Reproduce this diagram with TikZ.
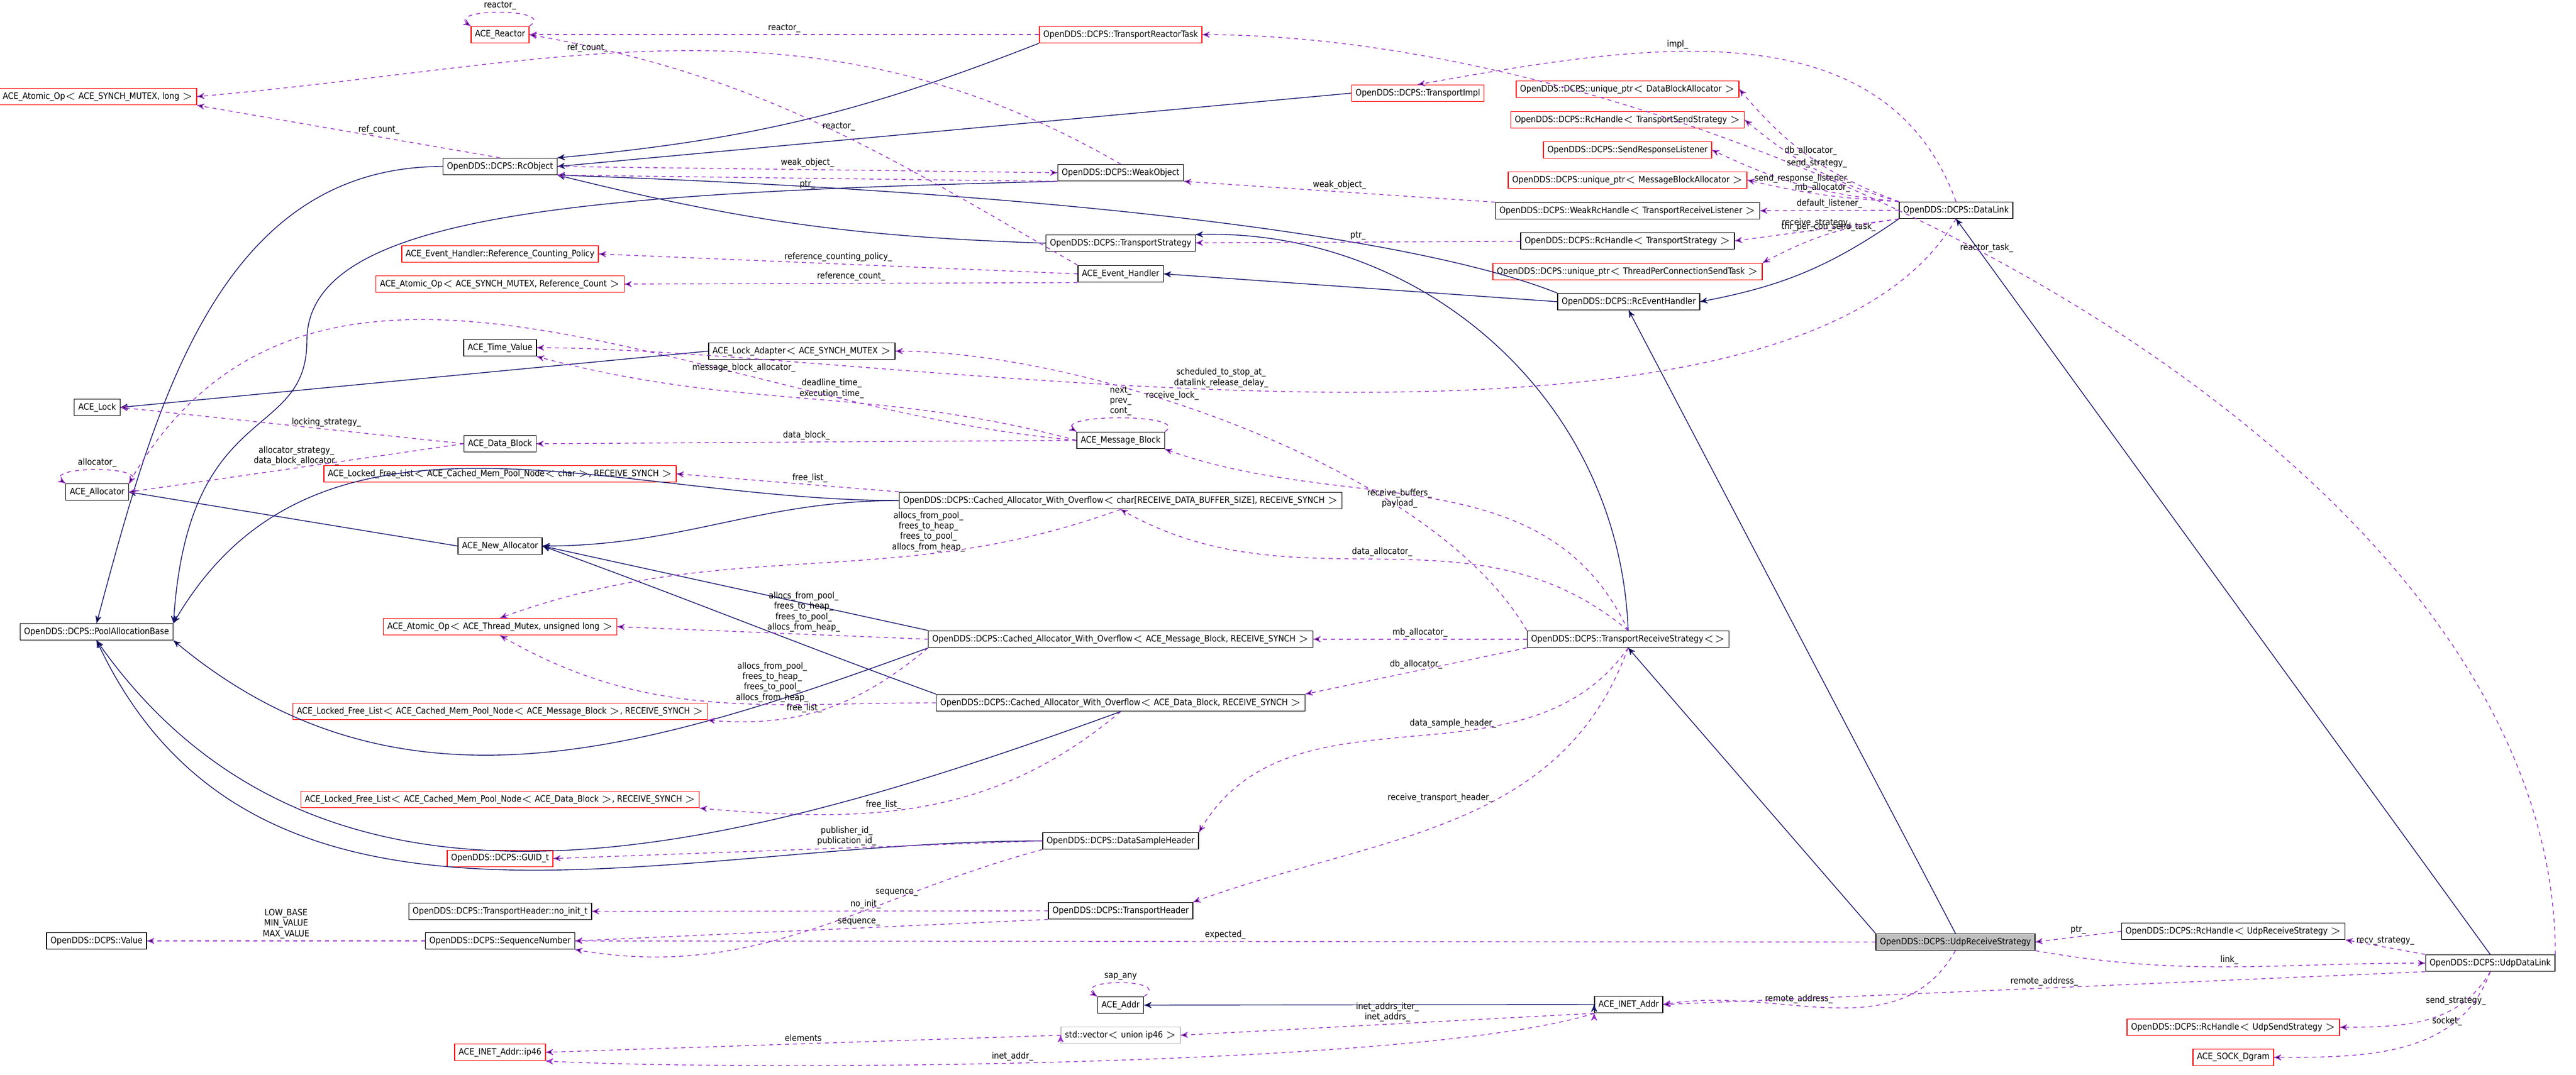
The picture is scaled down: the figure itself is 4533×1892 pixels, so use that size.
\documentclass[tikz,border=0pt]{standalone}
\usepackage{fontspec}
\newfontfamily\dgfont{DejaVu Sans Condensed}
\usetikzlibrary{arrows}
\definecolor{inhblue}{RGB}{25,25,112}
\definecolor{usepurple}{RGB}{154,50,205}
\definecolor{boxgray}{RGB}{191,191,191}

\begin{document}
\begin{tikzpicture}[x=0.01cm,y=-0.01cm,>=stealth',
  cls/.style={draw,thin,inner sep=2pt,minimum height=0.27cm,font=\dgfont\fontsize{4.4}{5.2}\selectfont},
  redcls/.style={cls,draw=red},
  inh/.style={->,draw=inhblue,thin},
  use/.style={->,draw=usepurple,thin,dash pattern=on 2pt off 2pt},
  selfloop/.style={to path={.. controls +(50,-32) and +(-50,-32) .. (\tikztotarget) \tikztonodes}},
  lbl/.style={font=\dgfont\fontsize{4.4}{5.2}\selectfont,align=center,inner sep=1pt}]

  \useasboundingbox (0,0) rectangle (4533,1892);

  % left column
  \node[redcls] (atomiclong) at (172,170) {ACE\_Atomic\_Op$<$ ACE\_SYNCH\_MUTEX, long $>$};
  \node[cls] (acelock) at (171,717) {ACE\_Lock};
  \node[cls] (allocator) at (171,866) {ACE\_Allocator};
  \node[cls] (pool) at (170,1112) {OpenDDS::DCPS::PoolAllocationBase};
  \node[cls] (value) at (170,1656) {OpenDDS::DCPS::Value};

  % second column
  \node[redcls] (reactor) at (880,61) {ACE\_Reactor};
  \node[cls] (rcobject) at (880,293) {OpenDDS::DCPS::RcObject};
  \node[redcls] (refpolicy) at (880,447) {ACE\_Event\_Handler::Reference\_Counting\_Policy};
  \node[redcls] (atomicref) at (880,500) {ACE\_Atomic\_Op$<$ ACE\_SYNCH\_MUTEX, Reference\_Count $>$};
  \node[cls] (timevalue) at (880,612) {ACE\_Time\_Value};
  \node[cls] (lockadapter) at (1411,618) {ACE\_Lock\_Adapter$<$ ACE\_SYNCH\_MUTEX $>$};
  \node[cls] (datablock) at (880,781) {ACE\_Data\_Block};
  \node[redcls] (lflchar) at (880,834) {ACE\_Locked\_Free\_List$<$ ACE\_Cached\_Mem\_Pool\_Node$<$ char $>$, RECEIVE\_SYNCH $>$};
  \node[cls] (newalloc) at (880,961) {ACE\_New\_Allocator};
  \node[redcls] (atomictm) at (880,1103) {ACE\_Atomic\_Op$<$ ACE\_Thread\_Mutex, unsigned long $>$};
  \node[redcls] (lflmb) at (880,1252) {ACE\_Locked\_Free\_List$<$ ACE\_Cached\_Mem\_Pool\_Node$<$ ACE\_Message\_Block $>$, RECEIVE\_SYNCH $>$};
  \node[redcls] (lfldb) at (880,1407) {ACE\_Locked\_Free\_List$<$ ACE\_Cached\_Mem\_Pool\_Node$<$ ACE\_Data\_Block $>$, RECEIVE\_SYNCH $>$};
  \node[redcls] (guid) at (880,1511) {OpenDDS::DCPS::GUID\_t};
  \node[cls] (noinit) at (880,1604) {OpenDDS::DCPS::TransportHeader::no\_init\_t};
  \node[cls] (seqnum) at (880,1656) {OpenDDS::DCPS::SequenceNumber};
  \node[redcls] (ip46) at (880,1852) {ACE\_INET\_Addr::ip46};

  % third column
  \node[redcls] (reactortask) at (1972,61) {OpenDDS::DCPS::TransportReactorTask};
  \node[cls] (weakobject) at (1972,304) {OpenDDS::DCPS::WeakObject};
  \node[cls] (tstrategy) at (1972,428) {OpenDDS::DCPS::TransportStrategy};
  \node[cls] (eventhandler) at (1972,482) {ACE\_Event\_Handler};
  \node[cls] (msgblock) at (1972,775) {ACE\_Message\_Block};
  \node[cls] (cachedchar) at (1972,881) {OpenDDS::DCPS::Cached\_Allocator\_With\_Overflow$<$ char[RECEIVE\_DATA\_BUFFER\_SIZE], RECEIVE\_SYNCH $>$};
  \node[cls] (cachedmb) at (1972,1125) {OpenDDS::DCPS::Cached\_Allocator\_With\_Overflow$<$ ACE\_Message\_Block, RECEIVE\_SYNCH $>$};
  \node[cls] (cacheddb) at (1972,1237) {OpenDDS::DCPS::Cached\_Allocator\_With\_Overflow$<$ ACE\_Data\_Block, RECEIVE\_SYNCH $>$};
  \node[cls] (dsheader) at (1972,1480) {OpenDDS::DCPS::DataSampleHeader};
  \node[cls] (theader) at (1972,1603) {OpenDDS::DCPS::TransportHeader};
  \node[cls] (aceaddr) at (1972,1769) {ACE\_Addr};
  \node[cls,draw=boxgray] (vecip46) at (1972,1822) {std::vector$<$ union ip46 $>$};

  % fourth column
  \node[redcls] (timpl) at (2495,164) {OpenDDS::DCPS::TransportImpl};
  \node[redcls] (uptrdba) at (2864,157) {OpenDDS::DCPS::unique\_ptr$<$ DataBlockAllocator $>$};
  \node[redcls] (rchtss) at (2864,211) {OpenDDS::DCPS::RcHandle$<$ TransportSendStrategy $>$};
  \node[redcls] (sendresp) at (2864,264) {OpenDDS::DCPS::SendResponseListener};
  \node[redcls] (uptrmba) at (2864,317) {OpenDDS::DCPS::unique\_ptr$<$ MessageBlockAllocator $>$};
  \node[cls] (weakrch) at (2864,371) {OpenDDS::DCPS::WeakRcHandle$<$ TransportReceiveListener $>$};
  \node[cls] (rchts) at (2864,424) {OpenDDS::DCPS::RcHandle$<$ TransportStrategy $>$};
  \node[redcls] (uptrtask) at (2864,478) {OpenDDS::DCPS::unique\_ptr$<$ ThreadPerConnectionSendTask $>$};
  \node[cls] (rceventhandler) at (2866,531) {OpenDDS::DCPS::RcEventHandler};
  \node[cls] (trs) at (2865,1125) {OpenDDS::DCPS::TransportReceiveStrategy$<$$>$};
  \node[cls] (inetaddr) at (2866,1768) {ACE\_INET\_Addr};

  % right columns
  \node[cls] (datalink) at (3442,370) {OpenDDS::DCPS::DataLink};
  \node[cls,fill=boxgray] (udprs) at (3441,1658) {OpenDDS::DCPS::UdpReceiveStrategy};
  \node[cls] (rchudprs) at (3930,1639) {OpenDDS::DCPS::RcHandle$<$ UdpReceiveStrategy $>$};
  \node[redcls] (rchudpss) at (3930,1808) {OpenDDS::DCPS::RcHandle$<$ UdpSendStrategy $>$};
  \node[redcls] (sockdgram) at (3930,1861) {ACE\_SOCK\_Dgram};
  \node[cls] (udpdatalink) at (4382,1695) {OpenDDS::DCPS::UdpDataLink};

  % inheritance
  \path[inh]
    (reactortask.south west) edge[bend left=8] (rcobject.north east)
    (timpl.west) edge (rcobject.east)
    (tstrategy.west) edge[bend left=6] (rcobject.south east)
    (rcobject.west) edge[out=180,in=75] (pool.north)
    (rceventhandler.west) edge (eventhandler.east)
    (lockadapter.west) edge (acelock.east)
    (newalloc.west) edge (allocator.east)
    (cachedchar.west) edge[out=180,in=60] (pool.north east)
    (cachedchar.west) edge[out=180,in=0] (newalloc.east)
    (cachedmb.north west) edge (newalloc.east)
    (cacheddb.north west) edge[out=160,in=-20] (newalloc.east)
    (cachedmb.south west) edge[out=200,in=-40] (pool.south east)
    (cacheddb.south) edge[out=200,in=-55] (pool.south)
    (dsheader.west) edge[out=180,in=-65] (pool.south)
    (datalink.south west) edge[bend left=12] (rceventhandler.east)
    (udprs.north) edge (rceventhandler.south)
    (udprs.north west) edge (trs.south)
    (udpdatalink.north) edge (datalink.south)
    (inetaddr.west) edge (aceaddr.east);
  \draw[inh] (weakobject.south west) .. controls (1000,340) and (540,380) .. (540,600) .. controls (540,780) and (330,700) .. (pool.north east);
  \draw[inh] (rceventhandler.north west) .. controls (2500,420) and (1900,340) .. (rcobject.south east);
  \draw[inh] (trs.north) .. controls (2850,700) and (2500,400) .. (tstrategy.north east);

  % members
  \path[use,every node/.style={lbl}]
    (reactor.north east) edge[selfloop] node[above] {reactor\_} (reactor.north west)
    (reactortask) edge node[above] {reactor\_} (reactor)
    (eventhandler.north west) edge[out=150,in=-10] node[pos=0.45,above] {reactor\_} (reactor.east)
    (rcobject.north) edge node[above,pos=0.4] {ref\_count\_} (atomiclong.south east)
    (weakobject.north) edge[out=150,in=5] node[above,pos=0.6] {ref\_count\_} (atomiclong.east)
    (rcobject.east) edge node[above] {weak\_object\_} (weakobject.west)
    (weakobject.south west) edge node[below] {ptr\_} (rcobject.south east)
    (weakrch.north west) edge node[above] {weak\_object\_} (weakobject.south east)
    (rchts) edge node[above] {ptr\_} (tstrategy)
    (eventhandler.west) edge node[above] {reference\_counting\_policy\_} (refpolicy.east)
    (eventhandler.south west) edge node[above] {reference\_count\_} (atomicref.east)
    (udpdatalink.north east) edge[out=90,in=0,looseness=0.8] node[above,pos=0.55] {reactor\_task\_} (reactortask.east)
    (datalink.north) edge[out=110,in=10] node[above,pos=0.6] {impl\_} (timpl.north)
    (datalink.north west) edge[bend left=15] node[above] {db\_allocator\_} (uptrdba.east)
    (datalink.north west) edge[bend left=12] node[above] {send\_strategy\_} (rchtss.east)
    (datalink.north west) edge[bend left=10] node[above] {send\_response\_listener\_} (sendresp.east)
    (datalink.north west) edge[bend left=5] node[above] {mb\_allocator\_} (uptrmba.east)
    (datalink.west) edge node[above] {default\_listener\_} (weakrch.east)
    (datalink.south west) edge node[above] {receive\_strategy\_} (rchts.east)
    (datalink.south west) edge[bend right=10] node[above] {thr\_per\_con\_send\_task\_} (uptrtask.north east)
    (datalink.south) edge[out=240,in=0,looseness=0.6] node[above,pos=0.55] {scheduled\_to\_stop\_at\_\\datalink\_release\_delay\_} (timevalue.east)
    (trs.north west) edge[out=120,in=0,looseness=0.7] node[above,pos=0.6] {receive\_lock\_} (lockadapter.east)
    (msgblock.west) edge[out=165,in=-15] node[above,pos=0.45] {deadline\_time\_\\execution\_time\_} (timevalue.south east)
    (msgblock.north east) edge[selfloop] node[above] {next\_\\prev\_\\cont\_} (msgblock.north west)
    (datablock.west) edge node[above,pos=0.4] {locking\_strategy\_} (acelock.east)
    (msgblock.west) edge[out=175,in=60] node[above,pos=0.3] {message\_block\_allocator\_} (allocator.north east)
    (datablock.west) edge node[above,pos=0.5] {allocator\_strategy\_\\data\_block\_allocator\_} (allocator.east)
    (allocator.north east) edge[selfloop] node[above] {allocator\_} (allocator.north west)
    (msgblock.west) edge node[above] {data\_block\_} (datablock.east)
    (cachedchar.north west) edge node[above,pos=0.4] {free\_list\_} (lflchar.east)
    (trs.north) edge[out=115,in=-20] node[pos=0.5,left] {receive\_buffers\_\\payload\_} (msgblock.south east)
    (trs.north) edge[out=140,in=-30] node[pos=0.5,above] {data\_allocator\_} (cachedchar.south)
    (cachedchar.south) edge[out=200,in=20] node[pos=0.3,above] {allocs\_from\_pool\_\\frees\_to\_heap\_\\frees\_to\_pool\_\\allocs\_from\_heap\_} (atomictm.north)
    (cachedmb.west) edge node[pos=0.4,above] {allocs\_from\_pool\_\\frees\_to\_heap\_\\frees\_to\_pool\_\\allocs\_from\_heap\_} (atomictm.east)
    (cacheddb.west) edge[out=180,in=-30] node[pos=0.35,above] {allocs\_from\_pool\_\\frees\_to\_heap\_\\frees\_to\_pool\_\\allocs\_from\_heap\_} (atomictm.south)
    (cachedmb.south west) edge[out=220,in=-5] node[pos=0.6,above] {free\_list\_} (lflmb.south east)
    (cacheddb.south) edge[out=220,in=-5] node[pos=0.6,above] {free\_list\_} (lfldb.south east)
    (trs.west) edge node[above] {mb\_allocator\_} (cachedmb.east)
    (trs.south west) edge node[above] {db\_allocator\_} (cacheddb.north east)
    (trs.south) edge[out=235,in=60] node[pos=0.3,left=4pt] {data\_sample\_header\_} (dsheader.north east)
    (trs.south) edge[out=250,in=20] node[pos=0.4,left=2pt] {receive\_transport\_header\_} (theader.north east)
    (dsheader.west) edge node[above,pos=0.4] {publisher\_id\_\\publication\_id\_} (guid.east)
    (dsheader.south west) edge[out=195,in=-10] node[above,pos=0.3] {sequence\_} (seqnum.south east)
    (theader.west) edge node[above,pos=0.4] {no\_init\_} (noinit.east)
    (theader.south west) edge node[above,pos=0.4] {sequence\_} (seqnum.east)
    (udprs.west) edge node[above] {expected\_} (seqnum.east)
    (seqnum.west) edge node[above] {LOW\_BASE\\MIN\_VALUE\\MAX\_VALUE} (value.east)
    (rchudprs.west) edge node[above] {ptr\_} (udprs.east)
    (udpdatalink.north west) edge node[above] {recv\_strategy\_} (rchudprs.south east)
    (udprs.south east) edge[out=-10,in=180] node[above] {link\_} (udpdatalink.west)
    (udprs.south) edge[out=240,in=10] node[above,pos=0.6] {remote\_address\_} (inetaddr.east)
    (udpdatalink.south west) edge node[above] {remote\_address\_} (inetaddr.east)
    (udpdatalink.south) edge[out=240,in=0] node[above,pos=0.3] {send\_strategy\_} (rchudpss.east)
    (udpdatalink.south) edge[out=250,in=0] node[above,pos=0.3] {socket\_} (sockdgram.east)
    (aceaddr.north east) edge[selfloop] node[above] {sap\_any} (aceaddr.north west)
    (inetaddr.south west) edge node[above] {inet\_addrs\_iter\_\\inet\_addrs\_} (vecip46.east);
  \path[use,every node/.style={lbl}]
    (vecip46.west) edge node[above] {elements} (ip46.east);
  \draw[use] (inetaddr.south west) .. controls (2500,1880) and (1300,1885) .. node[lbl,above,pos=0.55] {inet\_addr\_} (ip46.south east);
\end{tikzpicture}
\end{document}
